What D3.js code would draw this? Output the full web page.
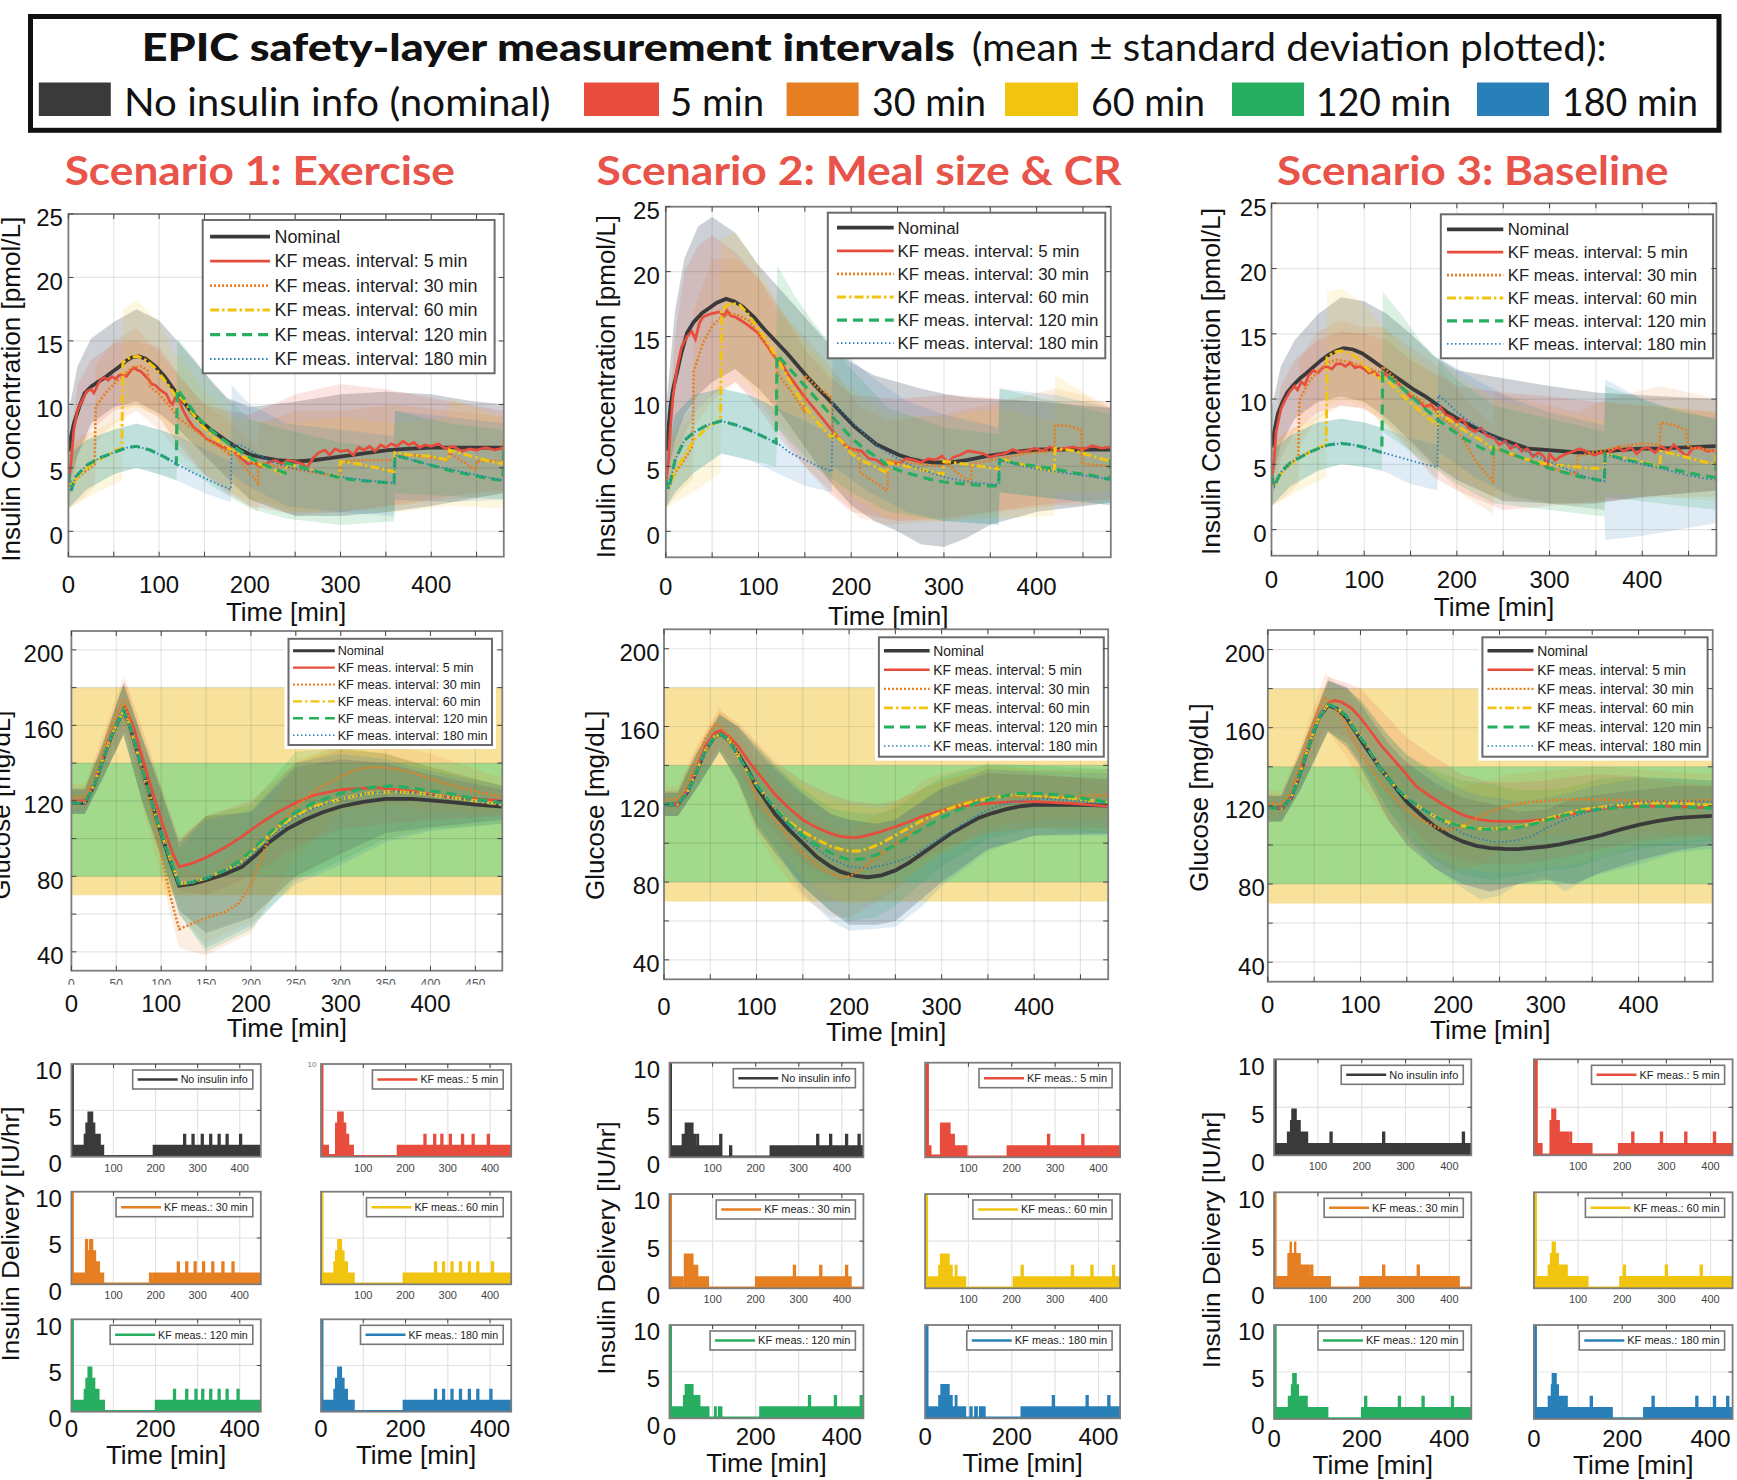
<!DOCTYPE html>
<html>
<head>
<meta charset="utf-8">
<script src="https://cdn.jsdelivr.net/npm/d3@7"></script>
<style>
body { margin: 0; background: #fff; }
svg text { font-family: "Liberation Sans", Arial, sans-serif; fill: #111; }
</style>
</head>
<body>
<svg width="1737" height="1480"></svg>
<script>
// ---------- labels & ticks ----------
const headerBold = 'EPIC safety-layer measurement intervals';
const headerRest = '(mean \u00b1 standard deviation plotted):';
const headerItems = ['No insulin info (nominal)', '5 min', '30 min', '60 min', '120 min', '180 min'];
const scenarioTitles = ['Scenario 1: Exercise', 'Scenario 2: Meal size & CR', 'Scenario 3: Baseline'];
const legendLabels = ['Nominal', 'KF meas. interval: 5 min', 'KF meas. interval: 30 min',
    'KF meas. interval: 60 min', 'KF meas. interval: 120 min', 'KF meas. interval: 180 min'];
const deliveryLabels = ['No insulin info', 'KF meas.: 5 min', 'KF meas.: 30 min',
    'KF meas.: 60 min', 'KF meas.: 120 min', 'KF meas.: 180 min'];
const insTicks = [0, 5, 10, 15, 20, 25];
const gluTicks = [40, 80, 120, 160, 200];
const gluGrid = [40, 60, 80, 100, 120, 140, 160, 180, 200];
const timeTicks = [0, 100, 200, 300, 400];
const timeGrid = [0, 50, 100, 150, 200, 250, 300, 350, 400, 450];
const delTimeTicks = [100, 200, 300, 400];
const delBigTicks = [0, 200, 400];
const delYTicks = [0, 5, 10];
const gluYellowRange = [70, 180];
const gluGreenRange = [80, 140];

// ---------- Scenario 1: insulin concentration [t, value] ----------
const s1InsNom = [[0,6.3],[3,7.5],[6,8.5],[12,9.8],[18,10.9],[25,11.4],[31,11.7],[40,12.1],[47,12.5],[55,12.9],[63,13.4],[70,13.7],[77,13.8],[85,13.6],[96,13.0],[106,12.2],[116,11.2],[127,10.2],[137,9.3],[147,8.6],[157,8.0],[167,7.5],[177,7.0],[190,6.4],[202,6.0],[215,5.8],[230,5.6],[251,5.5],[270,5.6],[292,5.8],[312,6.0],[332,6.2],[352,6.4],[373,6.5],[400,6.6],[440,6.6],[480,6.6]];
const s1Ins5 = [[0,3.5],[3,5.5],[6,8],[10,9.5],[15,10.3],[20,11],[25,11.2],[28,10.9],[32,11.5],[36,12.0],[40,12.1],[44,11.9],[48,12.2],[52,12.0],[56,12.3],[60,12.4],[64,12.2],[68,12.6],[72,12.9],[76,12.7],[80,12.6],[84,12.3],[88,12.0],[92,11.6],[96,11.5],[100,11.2],[104,11.0],[108,10.8],[112,10.2],[115,10.0],[118,10.6],[122,10.4],[126,9.6],[132,8.8],[138,8.2],[145,7.8],[152,7.3],[160,7.0],[168,6.7],[175,6.5],[182,6.3],[190,5.8],[198,5.3],[205,5.4],[212,5.1],[220,5.4],[228,5.6],[235,5.3],[242,5.6],[250,5.5],[258,5.3],[263,5.0],[270,5.8],[276,6.2],[283,6.4],[288,6.0],[294,6.5],[300,6.3],[308,6.4],[314,6.0],[320,6.6],[326,6.4],[332,6.7],[338,6.3],[344,6.8],[350,6.6],[356,6.9],[362,6.7],[369,7.1],[375,6.8],[381,7.0],[387,6.6],[393,6.8],[400,6.7],[408,6.9],[416,6.5],[424,6.7],[434,6.3],[442,6.5],[450,6.4],[460,6.6],[470,6.4],[480,6.6]];
const s1Ins30 = [[0,4.6],[3,3.6],[10,4.2],[20,4.8],[29,5.3],[30,9.8],[40,10.8],[50,11.6],[60,12.2],[70,12.9],[80,13.0],[87,12.7],[90,11.4],[100,10.8],[110,10.0],[119,9.2],[120,9.0],[135,8.2],[150,7.4],[165,6.7],[177,6.1],[178,6.6],[195,5.0],[209,3.8],[210,5.4],[225,5.2],[240,5.0],[260,4.8],[280,4.5],[299,4.3],[300,5.5],[320,5.6],[340,5.6],[359,5.6],[360,5.9],[380,6.0],[400,5.8],[419,5.6],[420,6.2],[435,5.5],[449,4.8],[450,5.5],[479,5.6],[480,7.7]];
const s1Ins60 = [[0,4.3],[3,3.4],[10,4.3],[20,5.0],[30,5.5],[45,6.1],[59,6.6],[60,13.3],[68,13.7],[76,13.8],[85,13.5],[95,12.9],[105,12.0],[115,11.0],[119,10.6],[120,10.9],[130,10.0],[145,8.5],[160,7.4],[175,6.6],[180,6.4],[195,5.8],[210,5.3],[225,4.9],[239,4.5],[240,5.3],[260,5.0],[280,4.6],[299,4.3],[300,5.5],[320,5.3],[340,5.0],[359,4.7],[360,6.2],[380,6.0],[400,5.9],[419,5.6],[420,6.4],[440,6.0],[460,5.6],[479,5.3],[480,6.0]];
const s1Ins120 = [[0,4.6],[3,3.2],[8,4.3],[20,5.2],[35,5.8],[50,6.2],[65,6.6],[75,6.7],[90,6.4],[105,5.9],[119,5.3],[120,11.2],[130,10.2],[145,8.8],[160,7.8],[175,7.0],[190,6.3],[205,5.6],[220,5.1],[239,4.6],[240,5.4],[260,5.0],[280,4.6],[300,4.2],[320,4.0],[340,3.9],[359,3.8],[360,6.0],[380,5.6],[400,5.2],[420,4.8],[440,4.5],[460,4.2],[479,4.0],[480,6.6]];
const s1Ins180 = [[0,4.6],[3,3.2],[8,4.3],[20,5.2],[35,5.8],[50,6.2],[65,6.6],[75,6.7],[90,6.4],[105,5.9],[120,5.3],[135,4.7],[150,4.2],[165,3.7],[179,3.3],[180,6.8],[190,6.8],[205,6.2],[220,5.6],[240,5.1],[260,4.8],[280,4.6],[300,4.3],[330,4.0],[359,3.8],[360,6.0],[380,5.6],[400,5.2],[420,4.9],[440,4.6],[460,4.3],[480,4.0]];
// bands [t, lower, upper]
const s1InsNomBand = [[0,3.5,9.3],[10,6,13],[25,8.5,15.2],[50,9.8,16.5],[75,10.2,17.5],[100,9.3,16.6],[125,7.8,14.6],[150,6,12.5],[175,4.2,10.5],[200,2.5,9.8],[250,1.2,10.2],[300,1.2,10.8],[350,1.5,11],[400,2,10.8],[440,2.5,10.3],[480,3,10]];
const s1Ins5Band = [[0,1.8,6],[10,6,11.5],[25,8,13.5],[50,9.5,14.8],[75,10,15],[100,9,14.5],[125,6.5,12],[150,4.5,10],[175,3,9.5],[200,2,9.2],[250,1.3,10.8],[300,1.5,11.6],[350,2,11.2],[400,2.5,10.5],[440,3,10],[480,3.2,9.5]];
const s1Ins30Band = [[0,1.8,6.5],[15,2.5,7.5],[29,3.5,8],[30,7,13],[50,8.5,15],[75,9.5,16],[100,8,14],[125,6,12],[150,4.5,10],[180,3,8.5],[209,1.5,6.5],[210,2.5,8.5],[250,1.5,9.5],[300,1.5,9.5],[360,2,10],[420,2.5,9.5],[480,3,9]];
const s1Ins60Band = [[0,1.8,6.5],[30,3,8],[59,4,9],[60,9.5,17.5],[75,9.8,18.2],[100,9,16.5],[119,7,13.5],[120,7.5,14],[150,4.5,11],[180,3,9],[240,1.5,8.5],[300,1.8,9],[360,1.5,8.5],[419,2,9],[420,2,10.5],[479,1.8,9],[480,3,10]];
const s1Ins120Band = [[0,1.8,6],[20,3.3,7.2],[50,4.5,8],[75,5,8.5],[100,4.5,8],[119,4,7.5],[120,5.5,15.2],[140,4.5,13.5],[160,3.5,11.5],[200,1.8,8.8],[240,1,8],[300,0.5,7],[359,0.8,6.5],[360,3,9.5],[420,2.8,8.5],[480,2.5,8]];
const s1Ins180Band = [[0,1.8,6],[20,3.3,7.2],[50,4.5,8],[75,5,8.5],[100,4.5,8],[120,4,7.5],[150,3,6.5],[179,2.3,5.5],[180,4.5,11.5],[200,3.5,10],[240,2,8.5],[300,1.5,8],[359,1.2,7.5],[360,2.5,9.5],[420,2.3,9],[480,2.5,8.5]];

// ---------- Scenario 1: glucose ----------
const s1GluNom = [[0,119],[15,119],[25,128],[35,142],[45,155],[58,168],[65,160],[80,135],[95,110],[110,88],[120,75],[135,76],[150,78],[170,81],[190,85],[205,91],[220,98],[240,105],[260,110],[280,114],[300,117],[325,119.5],[350,121],[380,121],[420,119.5],[450,118],[480,117]];
const s1Glu5 = [[0,120],[15,120],[25,129],[35,143],[45,156],[60,170],[70,158],[85,133],[100,110],[112,93],[120,85],[135,87],[150,90],[170,95],[190,101],[210,108],[230,114],[250,119],[270,123],[300,126],[340,127],[380,125],[420,122],[450,121],[480,120]];
const s1Glu30 = [[0,122],[15,122],[25,131],[35,146],[45,160],[58,174],[65,162],[80,133],[95,103],[110,70],[120,52],[135,55],[150,58],[170,61],[185,65],[200,75],[210,88],[220,100],[235,110],[250,117],[270,125],[300,133],[320,137],[340,138],[360,137],[380,135],[410,130],[450,125],[480,122]];
const s1Glu60 = [[0,119],[15,119],[25,128],[35,142],[45,155],[58,168],[65,160],[80,135],[95,110],[110,89],[120,76],[135,77],[150,79],[170,83],[190,88],[210,97],[230,106],[250,112],[270,117],[300,121],[330,124],[360,125],[390,124],[420,122],[450,120],[480,118]];
const s1Glu120 = [[0,119],[15,119],[25,128],[35,142],[45,155],[58,168],[65,160],[80,135],[95,110],[110,89],[120,76],[135,77],[150,79],[170,83],[190,89],[210,98],[230,107],[250,114],[270,119],[300,124],[330,127],[360,128],[390,126],[420,124],[450,121],[480,119]];
const s1Glu180 = [[0,119],[15,119],[25,128],[35,142],[45,155],[58,168],[65,160],[80,135],[95,110],[110,89],[120,76],[135,77],[150,79],[170,83],[190,87],[210,95],[230,104],[250,111],[270,116],[300,121],[330,124],[360,125],[390,124],[420,122],[450,120],[480,118]];
const s1GluNomBand = [[0,113,126],[15,113,126],[35,132,150],[58,155,182],[80,118,152],[100,90,125],[120,62,98],[150,50,112],[200,58,114],[250,80,138],[300,92,142],[350,103,140],[400,106,134],[480,110,126]];
const s1Glu5Band = [[0,114,127],[15,114,127],[35,133,152],[60,157,184],[85,120,150],[100,98,128],[120,72,100],[150,70,112],[200,80,120],[250,96,140],[300,105,147],[350,108,145],[400,110,138],[480,112,128]];
const s1Glu30Band = [[0,115,129],[15,115,129],[35,136,155],[58,160,186],[80,115,150],[100,80,122],[120,42,85],[150,38,80],[200,50,100],[250,90,140],[300,115,150],[350,118,150],[400,115,145],[480,113,132]];
const s1Glu60Band = [[0,113,126],[15,113,126],[35,132,150],[58,155,182],[80,118,152],[100,92,126],[120,60,95],[150,45,112],[200,56,118],[250,80,142],[300,90,148],[350,100,145],[400,105,138],[480,108,128]];
const s1Glu120Band = [[0,113,126],[15,113,126],[35,132,150],[58,155,182],[80,118,152],[100,92,126],[120,60,95],[150,40,112],[200,52,118],[250,78,146],[300,88,148],[350,100,145],[400,105,138],[480,108,128]];
const s1Glu180Band = [[0,113,126],[15,113,126],[35,132,150],[58,155,182],[80,118,152],[100,92,126],[120,60,95],[150,42,110],[200,54,115],[250,76,140],[300,86,145],[350,98,142],[400,104,136],[480,108,128]];

// ---------- Scenario 2: insulin concentration ----------
const s2InsNom = [[0,6.2],[3,8],[5,9.6],[8,11],[12,12.2],[17,13.8],[23,15.3],[30,16.1],[39,16.8],[47,17.2],[55,17.6],[65,17.9],[74,17.7],[83,17.3],[95,16.5],[107,15.5],[119,14.6],[131,13.7],[143,12.7],[155,11.7],[167,10.8],[179,9.9],[191,9.0],[203,8.1],[215,7.4],[227,6.7],[239,6.3],[251,5.9],[263,5.6],[275,5.4],[290,5.3],[306,5.3],[326,5.5],[346,5.8],[366,6.0],[386,6.2],[406,6.3],[440,6.3],[480,6.3]];
const s2Ins5 = [[0,3.5],[3,5.5],[5,8],[8,10.5],[12,12.5],[17,14.2],[23,15.0],[28,15.4],[32,14.8],[36,16.0],[40,16.5],[46,16.7],[52,16.8],[58,16.9],[63,16.6],[66,17.0],[70,16.6],[75,16.5],[82,16.2],[90,15.8],[99,15.3],[107,14.5],[115,13.7],[120,13.2],[126,12.8],[131,12.2],[140,11.3],[148,10.5],[155,9.9],[163,9.2],[171,8.5],[179,7.8],[187,7.1],[195,6.5],[203,6.3],[211,6.2],[219,5.6],[227,5.5],[235,5.1],[243,5.3],[251,5.2],[259,5.6],[267,5.5],[275,5.3],[283,5.6],[291,5.5],[298,5.8],[304,5.3],[310,5.7],[318,5.9],[326,6.2],[334,6.1],[342,6.0],[350,5.7],[358,5.9],[366,6.0],[374,6.3],[382,6.1],[390,6.2],[398,6.4],[406,6.2],[414,6.5],[422,6.2],[430,6.4],[440,6.5],[450,6.3],[460,6.6],[470,6.4],[480,6.5]];
const s2Ins30 = [[0,4.7],[3,3.5],[10,4.5],[20,5.5],[29,6.6],[30,12.3],[40,14.5],[50,15.8],[60,16.5],[70,16.8],[80,16.6],[90,16.2],[100,15.3],[110,14.2],[119,13.2],[120,12.2],[135,10.8],[149,9.3],[150,12.0],[165,11.0],[179,10.3],[180,7.8],[195,6.6],[209,6.0],[210,4.5],[225,3.8],[239,3.1],[240,5.5],[270,5.2],[299,5.0],[300,5.4],[315,4.5],[329,3.7],[330,5.2],[360,5.6],[390,6.0],[419,6.2],[420,8.2],[435,8.1],[448,7.8],[449,5.2],[480,5.0]];
const s2Ins60 = [[0,4.0],[3,3.3],[10,4.6],[20,5.8],[30,7.0],[45,8.0],[59,8.6],[60,17.0],[70,17.6],[80,17.4],[90,16.6],[100,15.6],[110,14.5],[120,13.4],[130,12.0],[140,10.8],[150,9.6],[160,8.7],[170,7.9],[179,7.2],[180,7.6],[190,6.9],[200,6.0],[210,5.5],[225,5.0],[239,4.5],[240,5.3],[260,5.0],[280,4.7],[299,4.4],[300,5.4],[320,5.2],[340,5.0],[359,4.8],[360,5.6],[380,5.2],[400,4.9],[419,4.6],[420,6.4],[440,6.2],[460,5.8],[479,5.4],[480,6.0]];
const s2Ins120 = [[0,4.0],[3,3.2],[10,5.5],[20,7.0],[30,7.6],[45,8.2],[60,8.5],[75,8.2],[90,7.8],[105,7.3],[119,6.8],[120,13.6],[130,12.8],[140,12.0],[150,11.2],[160,10.4],[170,9.6],[180,8.8],[190,8.0],[200,7.2],[215,6.3],[230,5.6],[240,5.0],[255,4.6],[270,4.3],[285,4.0],[300,3.8],[315,3.7],[330,3.6],[345,3.5],[359,3.5],[360,5.5],[380,5.2],[400,5.0],[420,4.8],[440,4.5],[460,4.3],[479,4.0],[480,5.8]];
const s2Ins180 = [[0,4.0],[3,3.2],[10,5.5],[20,7.0],[30,7.6],[45,8.2],[60,8.5],[75,8.2],[90,7.8],[105,7.3],[120,6.8],[135,6.0],[150,5.5],[165,5.0],[179,4.6],[180,9.9],[190,9.2],[200,8.5],[215,7.4],[230,6.5],[245,5.8],[260,5.2],[275,4.8],[290,4.4],[305,4.1],[320,3.9],[340,3.7],[359,3.6],[360,5.5],[380,5.1],[400,4.8],[420,4.6],[440,4.4],[460,4.2],[480,4.0]];
const s2InsNomBand = [[0,3.5,9.3],[10,7,17],[20,9,21],[35,10.5,23.5],[50,11.5,24.2],[75,12.5,23],[100,11,20.5],[125,9,18.5],[150,6.5,16.5],[175,4,14.5],[200,2,13],[225,0.8,12],[250,0,11.5],[275,-1,11],[300,-1.2,10.6],[325,-0.5,10.3],[350,0.5,10.2],[400,1.5,10],[480,2.2,9.5]];
const s2Ins5Band = [[0,1.5,6],[10,5,15],[20,7.5,20],[35,9.5,22],[50,10.5,22.8],[75,11.5,21.5],[100,9.5,19.5],[125,7,17],[150,5,14],[175,3,12],[200,1.5,10.5],[250,0.8,10.2],[300,1,10.5],[350,1.5,10.3],[400,2,10],[480,2.5,10]];
const s2Ins30Band = [[0,1.8,6.5],[15,3,8.5],[29,4,9.5],[30,8,17],[50,10,21],[75,11.5,21],[100,10,19.5],[120,8,17],[150,5,15],[180,3,12.5],[210,1,9.5],[240,0.5,8.5],[300,0.8,9],[360,1.5,10],[420,2,11],[450,2,10.5],[480,2.3,9.5]];
const s2Ins60Band = [[0,1.8,6.5],[30,3,9],[59,4.5,11.5],[60,12,22.5],[75,12.5,23],[100,10.5,20.5],[120,8.5,17.5],[150,6,14.5],[180,3.5,12],[240,1,9],[300,0.8,8.8],[360,1,9.5],[419,1.2,8.5],[420,3,12],[480,3,9.5]];
const s2Ins120Band = [[0,1.8,6],[10,3,9],[30,4.5,10.5],[60,6,11],[90,5.5,10.5],[119,5,9.5],[120,8,20.5],[140,6.5,18],[160,5,16],[200,3,12.5],[240,1.5,9.5],[300,0.8,8],[359,0.5,7.5],[360,3,11],[420,2.5,10],[480,2,9]];
const s2Ins180Band = [[0,1.8,6],[10,3,9],[30,4.5,10.5],[60,6,11],[90,5.5,10.5],[120,4.5,9.5],[150,3.5,8.5],[179,3,7.5],[180,5,14.5],[220,3,12],[260,1.5,10],[300,0.8,9],[359,0.5,8],[360,3,11],[420,2.5,10.5],[480,2,9.5]];

// ---------- Scenario 2: glucose ----------
const s2GluNom = [[0,120],[15,120],[25,126],[35,137],[45,148],[55,155],[62,156],[70,153],[80,146],[90,138],[100,129],[110,122],[120,115],[135,107],[150,100],[165,93],[180,88],[190,85.5],[200,84],[210,83],[220,82.5],[235,83.5],[250,86],[265,90],[280,95],[295,100],[310,105],[325,109],[340,113],[355,115.5],[370,117.5],[385,119],[400,119.7],[440,119.8],[480,119.3]];
const s2Glu5 = [[0,120],[15,120],[25,127],[35,138],[45,150],[55,157],[62,158],[70,155],[80,150],[90,143],[100,137],[110,131],[120,125],[135,118],[150,112],[165,108],[180,105],[190,103.5],[200,103],[210,103],[220,104],[235,106],[250,108.5],[265,111],[280,114],[295,116],[310,118],[330,119.5],[350,120.5],[375,121.3],[400,121.4],[440,120.5],[480,119]];
const s2Glu30 = [[0,122.5],[15,122.5],[25,130],[35,142],[45,154],[55,161],[60,160],[70,155],[80,147],[90,135],[100,124],[110,117],[120,112],[135,103],[150,95],[165,89],[180,84.6],[190,82.6],[200,83],[205,84],[215,87],[230,93],[245,98],[260,103],[275,108.5],[290,113.7],[305,117.5],[320,120.5],[340,122.5],[360,124],[400,124],[440,124],[480,124.8]];
const s2Glu60 = [[0,120],[15,120],[25,126],[35,137],[45,148],[55,155],[62,156],[70,153],[80,145],[90,137],[100,130],[110,124],[120,118],[135,111],[150,106],[165,102],[180,98.5],[190,97],[200,96],[210,96],[220,97],[235,100],[250,104],[265,108],[280,112],[295,115],[310,118],[330,121],[350,123],[380,125],[420,124],[450,122.5],[480,121]];
const s2Glu120 = [[0,120],[15,120],[25,126],[35,137],[45,148],[55,155],[62,156],[70,153],[80,145],[90,137],[100,130],[110,124],[120,118],[135,110],[150,104],[165,99],[180,95],[190,93],[200,91.5],[215,92],[230,94],[240,96.5],[255,100.5],[270,105],[285,109],[300,113],[320,117.5],[340,121],[360,123.5],[380,125.5],[410,125.5],[440,124],[480,121]];
const s2Glu180 = [[0,120],[15,120],[25,126],[35,137],[45,148],[55,155],[62,156],[70,153],[80,145],[90,137],[100,130],[110,124],[120,118],[135,109],[150,103],[165,97],[180,92],[190,90],[200,88],[220,87],[240,89],[255,91],[270,94],[285,98.5],[300,103],[315,107.5],[330,112],[345,116],[360,119],[380,121.5],[400,123],[440,122],[480,120]];
const s2GluNomBand = [[0,114,126],[15,114,126],[35,128,146],[60,147,166],[80,132,160],[100,108,148],[120,95,138],[150,78,125],[180,65,115],[200,58,112],[230,58,110],[250,60,112],[280,72,122],[300,80,128],[350,97,136],[400,104,135],[480,105,133]];
const s2Glu5Band = [[0,114,127],[15,114,127],[35,129,148],[60,148,168],[80,138,162],[100,118,152],[120,105,142],[150,90,132],[180,82,125],[200,80,122],[230,82,120],[250,85,122],[280,92,128],[300,97,132],[350,105,138],[400,108,136],[480,108,132]];
const s2Glu30Band = [[0,116,129],[15,116,129],[35,133,150],[60,150,170],[80,130,158],[100,105,142],[120,90,132],[150,72,118],[180,62,108],[200,62,106],[230,70,115],[250,76,120],[280,88,132],[300,95,136],[350,108,140],[400,112,138],[480,112,138]];
const s2Glu60Band = [[0,114,126],[15,114,126],[35,128,146],[60,147,166],[80,132,160],[100,110,150],[120,98,140],[150,82,130],[180,72,122],[200,68,120],[230,72,118],[250,78,120],[280,88,128],[300,94,132],[350,105,140],[400,108,138],[480,106,136]];
const s2Glu120Band = [[0,114,126],[15,114,126],[35,128,146],[60,147,166],[80,132,160],[100,110,150],[120,98,140],[150,78,128],[180,65,118],[200,60,116],[230,62,115],[250,68,118],[280,80,128],[300,88,134],[350,102,141],[400,108,140],[480,105,138]];
const s2Glu180Band = [[0,114,126],[15,114,126],[35,128,146],[60,147,166],[80,132,160],[100,110,150],[120,98,140],[150,74,126],[180,60,115],[200,55,112],[230,56,110],[250,57,112],[280,68,122],[300,78,128],[350,96,138],[400,104,137],[480,104,136]];

// ---------- Scenario 3: insulin concentration ----------
const s3InsNom = [[0,6.3],[3,7.5],[7,8.9],[12,9.8],[17,10.5],[24,11.1],[31,11.6],[38,12.0],[46,12.5],[54,13.0],[62,13.4],[70,13.7],[78,13.9],[88,13.8],[98,13.5],[108,13.0],[118,12.5],[130,11.9],[142,11.3],[154,10.7],[166,10.2],[178,9.6],[189,9.0],[203,8.4],[217,7.9],[231,7.4],[245,7.0],[261,6.6],[277,6.2],[296,6.1],[316,6.0],[332,5.9],[348,5.9],[362,6.0],[376,6.1],[396,6.2],[416,6.2],[448,6.3],[480,6.4]];
const s3Ins5 = [[0,3.5],[3,5.5],[5,7.5],[10,9.2],[15,10.0],[20,10.6],[25,11.0],[28,10.7],[32,11.3],[36,11.1],[40,11.8],[45,12.2],[50,12.0],[55,12.4],[60,12.5],[65,12.3],[70,12.7],[75,12.7],[80,12.5],[85,12.8],[90,12.4],[95,12.5],[100,12.3],[105,12.0],[110,12.1],[115,11.8],[118,11.6],[122,12.0],[128,11.6],[135,11.3],[142,10.8],[150,10.2],[158,9.9],[165,9.4],[172,9.6],[178,9.1],[182,9.4],[188,8.8],[195,8.6],[200,8.2],[206,8.5],[212,7.8],[220,7.5],[226,7.8],[232,7.2],[240,7.0],[246,6.5],[252,6.8],[258,6.2],[264,6.5],[270,6.0],[276,6.2],[282,5.6],[288,5.9],[294,5.6],[297,4.8],[300,5.8],[306,5.3],[312,5.6],[318,5.8],[326,6.0],[332,6.2],[340,6.0],[348,5.7],[356,5.9],[362,5.8],[368,6.1],[374,6.3],[380,6.0],[388,6.3],[394,5.8],[400,6.2],[406,6.3],[414,5.9],[420,6.4],[428,6.0],[434,6.5],[440,6.1],[448,5.6],[454,6.2],[462,6.3],[470,6.0],[480,6.1]];
const s3Ins30 = [[0,4.6],[3,3.5],[10,4.3],[20,5.0],[29,5.6],[30,9.9],[40,11.3],[50,12.1],[60,12.8],[70,13.0],[80,12.9],[90,12.7],[100,12.5],[110,12.2],[119,12.0],[120,12.5],[130,11.8],[140,11.0],[150,10.4],[160,10.0],[170,9.4],[179,9.0],[180,8.6],[190,8.3],[200,7.6],[210,6.5],[220,5.3],[230,4.4],[239,3.7],[240,6.3],[255,5.8],[270,5.5],[285,5.1],[300,4.8],[315,4.4],[329,4.2],[330,5.6],[345,5.9],[360,6.1],[380,6.4],[400,6.6],[419,6.5],[420,8.2],[435,8.0],[447,7.6],[450,6.3],[479,6.0],[480,3.8]];
const s3Ins60 = [[0,4.0],[3,3.3],[10,4.3],[20,5.0],[30,5.5],[45,6.1],[59,6.5],[60,13.2],[68,13.6],[76,13.7],[85,13.5],[95,13.0],[105,12.2],[119,11.5],[120,11.8],[135,10.7],[150,9.7],[165,8.8],[179,8.0],[180,9.0],[190,8.5],[200,8.0],[212,7.4],[225,6.9],[239,6.2],[240,6.3],[255,5.9],[270,5.5],[285,5.2],[300,5.0],[315,4.9],[330,4.8],[345,4.7],[359,4.7],[360,5.8],[380,5.5],[400,5.2],[419,4.8],[420,6.0],[440,5.7],[460,5.3],[479,5.0],[480,6.2]];
const s3Ins120 = [[0,4.2],[3,3.3],[10,4.4],[20,5.1],[30,5.5],[40,5.9],[50,6.2],[62,6.5],[75,6.6],[88,6.5],[100,6.3],[110,6.1],[119,5.9],[120,12.0],[130,11.5],[140,10.9],[150,10.3],[160,9.6],[170,9.0],[180,8.4],[195,7.6],[210,6.9],[225,6.3],[239,5.8],[240,6.3],[255,5.9],[270,5.5],[285,5.1],[300,4.7],[315,4.4],[330,4.1],[345,3.9],[359,3.7],[360,5.8],[380,5.4],[400,5.1],[420,4.8],[440,4.5],[460,4.2],[479,4.0],[480,5.3]];
const s3Ins180 = [[0,4.2],[3,3.3],[10,4.4],[20,5.1],[30,5.5],[40,5.9],[50,6.2],[62,6.5],[75,6.6],[88,6.5],[100,6.3],[110,6.1],[120,5.9],[135,5.6],[150,5.3],[165,5.0],[179,4.8],[180,10.3],[190,9.7],[200,9.0],[215,8.2],[230,7.5],[245,6.9],[260,6.4],[280,5.8],[300,5.2],[320,4.6],[340,4.0],[359,3.7],[360,5.8],[380,5.3],[400,5.0],[420,4.7],[440,4.3],[460,4.0],[480,3.8]];
const s3InsNomBand = [[0,3.5,9.3],[10,6.5,12.5],[25,8.5,14.5],[50,9.8,16.5],[75,10.2,17.8],[100,9.8,17.5],[125,8.5,16.5],[150,6.8,15],[175,5,13.3],[200,3.8,12.2],[250,2.2,11.6],[300,2,11],[350,2,10.5],[400,2.5,10.3],[480,3,10]];
const s3Ins5Band = [[0,1.8,6],[10,5.5,11],[25,7.5,13],[50,9,14.5],[75,9.5,15.2],[100,9.3,15],[125,8,14.5],[150,6,13],[175,4,12],[200,3,11],[250,1.5,10.5],[300,1.8,10.2],[350,2.2,9.8],[400,2.5,9.5],[480,3,9]];
const s3Ins30Band = [[0,1.8,6.5],[15,2.5,7.5],[29,3.5,8],[30,6.5,13],[50,8.5,15.2],[75,9.5,16],[100,9.2,15.5],[120,8.5,15.5],[150,6.5,14],[180,4.5,12.5],[210,2.5,10],[239,1.2,8],[240,3,10.5],[300,2,9.5],[330,1.8,9],[360,2.2,10],[420,2.5,11],[480,2.5,10]];
const s3Ins60Band = [[0,1.8,6.5],[30,3,8],[59,4,9],[60,9.5,18.2],[75,10,18.5],[100,9.5,17.3],[120,8,15.5],[150,6,13.5],[179,4,11.5],[180,5,13],[240,2.5,10],[300,2,9],[359,1.5,8.3],[360,2.8,9.8],[420,2.5,9.5],[480,2.2,9]];
const s3Ins120Band = [[0,1.8,6],[20,3.3,7.2],[50,4.5,8.2],[75,5,8.5],[100,4.8,8.2],[119,4.5,7.8],[120,7.5,18.2],[140,6.5,16.5],[160,5.5,14.5],[200,3.5,11.5],[240,2,9.5],[300,1.5,8.5],[359,1,7.5],[360,2.5,11],[420,2,9.5],[480,1.5,8.5]];
const s3Ins180Band = [[0,1.8,6],[20,3.3,7.2],[50,4.5,8.2],[75,5,8.5],[100,4.8,8.2],[120,4.5,7.8],[150,3.5,7],[179,3,6.5],[180,6,13.2],[220,4,11.5],[260,2.5,10],[300,2,9],[359,1.5,8],[360,-0.8,11.5],[400,-0.5,10],[440,0,9],[480,0.5,8.5]];

// ---------- Scenario 3: glucose ----------
const s3GluNom = [[0,118.8],[15,118.8],[25,124],[35,137],[45,152],[55,165],[65,171.6],[75,169.5],[85,165],[100,154],[110,147],[120,140],[135,131],[150,122],[165,115.5],[180,109.5],[195,105],[210,101.8],[225,99.5],[240,98.4],[255,98],[270,97.9],[285,98.5],[300,99.2],[315,100.3],[330,101.8],[345,103.4],[360,105],[380,107.8],[400,110.3],[420,112.2],[440,113.7],[460,114.4],[480,114.9]];
const s3Glu5 = [[0,118.8],[15,118.8],[25,124],[35,138],[45,153],[55,166],[65,172.5],[72,174],[80,173],[90,170],[100,165],[110,158.8],[122,151],[135,144],[148,137],[160,130],[175,125],[190,120.5],[205,116.5],[215,114.6],[228,113],[240,112.3],[255,112],[270,112],[285,112.4],[300,113],[320,115],[340,117],[360,118.5],[380,119.7],[420,120],[450,119.5],[480,119]];
const s3Glu30 = [[0,121],[15,121],[25,127],[35,141],[45,157],[55,170],[62,175],[70,172],[80,165],[90,156],[100,147],[110,140],[120,133],[135,125],[150,118],[165,113],[180,109.4],[190,108],[195,107.7],[202,108.5],[210,110],[225,113.5],[240,117],[255,119.5],[270,121],[285,122],[300,122.6],[320,123.2],[340,123.4],[380,123],[420,122.3],[450,122.5],[480,123]];
const s3Glu60 = [[0,118.8],[15,118.8],[25,124],[35,137],[45,152],[55,165],[65,172],[75,170],[85,166],[95,158],[105,152],[120,140],[135,131],[150,124],[165,119],[180,114.6],[195,111.5],[210,109.8],[225,108.5],[240,108.2],[255,108.5],[270,109.3],[285,111],[300,113.3],[315,115.2],[330,117],[345,118.5],[360,119.3],[380,120.5],[400,121.4],[440,121.5],[480,120.3]];
const s3Glu120 = [[0,118.8],[15,118.8],[25,124],[35,137],[45,152],[55,165],[65,172],[75,170],[85,166],[95,158],[105,152],[120,140],[135,131],[150,124],[165,119],[180,114.6],[195,111.3],[210,109.5],[225,108.2],[240,108],[255,108.2],[270,109],[285,110.5],[300,112.5],[315,114.5],[330,116.3],[345,117.5],[360,118.3],[380,119.3],[400,119.8],[440,119.6],[480,118.8]];
const s3Glu180 = [[0,118.8],[15,118.8],[25,124],[35,137],[45,152],[55,165],[65,172],[75,170],[85,166],[95,158],[105,152],[120,140],[135,131],[150,124],[165,119],[180,114.6],[195,110],[210,106],[225,103.5],[240,101.8],[255,101.5],[270,102.5],[285,104.5],[300,108.6],[315,111.8],[330,114.6],[345,116.8],[360,118.8],[380,120.8],[400,122.2],[440,122.3],[480,122.2]];
const s3GluNomBand = [[0,112,125],[15,112,125],[35,128,147],[65,158,184],[85,150,181],[100,140,172],[130,113,152],[150,100,142],[180,88,132],[210,80,124],[240,76,121],[270,80,117],[300,82,118],[330,80,124],[360,86,126],[400,92,128],[440,97,130],[480,100,130]];
const s3Glu5Band = [[0,112,126],[15,112,126],[35,129,148],[65,159,186],[85,155,183],[100,148,180],[130,125,165],[150,112,155],[180,98,145],[210,92,136],[240,90,132],[270,90,132],[300,92,133],[330,95,135],[360,98,136],[400,102,135],[440,104,132],[480,105,130]];
const s3Glu30Band = [[0,114,128],[15,114,128],[35,132,150],[62,160,188],[85,145,178],[100,132,165],[130,112,148],[150,102,138],[180,92,128],[200,86,128],[230,90,132],[260,100,136],[300,105,138],[360,106,140],[420,106,138],[480,106,136]];
const s3Glu60Band = [[0,112,125],[15,112,125],[35,128,147],[65,158,184],[85,152,180],[100,142,174],[130,118,156],[150,106,146],[180,94,138],[210,88,133],[240,86,130],[270,86,128],[300,88,128],[330,90,130],[360,94,133],[400,100,134],[440,102,133],[480,103,132]];
const s3Glu120Band = [[0,112,125],[15,112,125],[35,128,147],[65,158,184],[85,152,180],[100,142,174],[130,118,156],[150,106,146],[180,92,138],[210,85,133],[240,82,131],[270,84,128],[300,87,128],[330,88,130],[360,93,134],[400,98,135],[440,100,134],[480,102,133]];
const s3Glu180Band = [[0,112,125],[15,112,125],[35,128,147],[65,158,184],[85,152,180],[100,142,174],[130,118,156],[150,104,146],[180,88,136],[210,78,128],[230,72,125],[250,74,124],[270,80,122],[300,84,124],[320,76,126],[350,84,130],[400,90,134],[440,96,134],[480,98,133]];

// ---------- insulin delivery, step values [t start, IU/hr] ----------
const s1DelNom = [[0,10],[4,1.2],[31,2.4],[35,3.6],[40,4.8],[50,3.6],[55,2.4],[68,1.2],[76,0.1],[195,1.2],[267,2.4],[271,1.2],[287,2.4],[291,1.2],[309,2.4],[313,1.2],[329,2.4],[333,1.2],[349,2.4],[353,1.2],[368,2.4],[372,1.2],[400,2.4],[404,1.2],[450,1.2]];
const s1Del5 = [[0,10],[4,1.2],[17,0.2],[35,3.6],[40,4.8],[52,3.6],[58,2.4],[65,1.2],[76,0.1],[181,1.2],[244,2.4],[248,1.2],[267,2.4],[271,1.2],[284,2.4],[288,1.2],[304,2.4],[308,1.2],[311,0.2],[313,1.2],[333,2.4],[337,1.2],[358,2.4],[362,1.2],[394,2.4],[398,0.2],[400,1.2],[450,1.2]];
const s1Del30 = [[0,10],[4,1.2],[31,0.2],[34,4.8],[38,3.6],[44,4.8],[50,3.6],[57,2.4],[66,1.2],[76,0.1],[186,1.2],[191,0.1],[195,1.2],[252,2.4],[256,1.2],[272,2.4],[276,1.2],[292,2.4],[296,1.2],[312,2.4],[316,1.2],[334,2.4],[338,1.2],[358,2.4],[362,1.2],[382,2.4],[386,1.2],[450,1.2]];
const s1Del60 = [[0,10],[4,1.2],[31,2.4],[35,3.6],[40,4.8],[48,3.6],[54,2.4],[62,1.2],[78,0.1],[195,1.2],[269,2.4],[273,1.2],[288,2.4],[292,1.2],[308,2.4],[312,1.2],[328,2.4],[332,1.2],[349,2.4],[353,1.2],[369,2.4],[373,1.2],[404,2.4],[408,1.2],[450,1.2]];
const s1Del120 = [[0,10],[4,1.2],[31,2.4],[35,3.6],[40,4.8],[48,3.6],[55,2.4],[65,1.2],[78,0.1],[200,1.2],[243,2.4],[247,1.2],[272,2.4],[276,1.2],[294,2.4],[298,1.2],[310,2.4],[314,1.2],[329,2.4],[333,1.2],[349,2.4],[353,1.2],[368,2.4],[372,1.2],[394,2.4],[398,1.2],[450,1.2]];
const s1Del180 = [[0,10],[4,1.2],[31,2.4],[35,3.6],[40,4.8],[48,3.6],[54,2.4],[62,1.2],[78,0.1],[195,1.2],[269,2.4],[273,1.2],[288,2.4],[292,1.2],[308,2.4],[312,1.2],[328,2.4],[332,1.2],[349,2.4],[353,1.2],[369,2.4],[373,1.2],[400,2.4],[404,1.2],[450,1.2]];
const s2DelNom = [[0,10],[4,1.2],[30,2.4],[37,3.6],[54,2.4],[60,1.2],[64,2.4],[67,1.2],[117,2.4],[121,0.1],[140,1.2],[144,0.1],[234,1.2],[342,2.4],[346,1.2],[372,2.4],[376,1.2],[409,2.4],[413,1.2],[438,2.4],[442,1.2],[450,1.2]];
const s2Del5 = [[0,10],[7,1.2],[13,0.2],[36,3.6],[57,2.4],[67,1.2],[96,0.1],[190,1.2],[283,2.4],[287,1.2],[362,2.4],[366,1.2],[450,1.2]];
const s2Del30 = [[0,10],[4,1.2],[31,0.1],[35,3.6],[54,2.4],[65,1.2],[90,0.1],[200,1.2],[288,2.4],[292,1.2],[349,2.4],[353,1.2],[409,2.4],[413,1.2],[421,0.1],[450,0.1]];
const s2Del60 = [[0,10],[5,1.2],[32,2.4],[36,3.6],[55,2.4],[62,1.2],[70,2.4],[73,1.2],[93,0.1],[204,1.2],[208,0.1],[210,1.2],[222,2.4],[226,1.2],[338,2.4],[342,1.2],[383,2.4],[387,1.2],[433,2.4],[437,1.2],[450,1.2]];
const s2Del120 = [[0,10],[4,1.2],[33,2.4],[37,3.6],[54,2.4],[65,1.2],[67,2.4],[70,1.2],[91,0.1],[105,1.2],[108,0.1],[114,1.2],[121,0.1],[210,1.2],[323,2.4],[327,1.2],[383,2.4],[387,1.2],[443,2.4],[447,1.2],[450,1.2]];
const s2Del180 = [[0,10],[6,1.2],[32,2.4],[37,3.6],[55,2.4],[62,1.2],[70,2.4],[73,1.2],[93,0.1],[104,1.2],[108,0.1],[115,1.2],[120,0.1],[126,1.2],[138,0.1],[222,1.2],[294,2.4],[298,1.2],[372,2.4],[376,1.2],[422,2.4],[426,1.2],[450,1.2]];
const s3DelNom = [[0,10],[4,1.2],[31,2.4],[38,3.6],[41,4.8],[50,3.6],[59,2.4],[76,1.2],[128,2.4],[132,1.2],[178,0.1],[180,1.2],[248,2.4],[252,1.2],[258,0.1],[260,1.2],[273,0.1],[275,1.2],[284,0.1],[286,1.2],[294,0.1],[296,1.2],[311,0.1],[313,1.2],[332,0.1],[334,1.2],[430,2.4],[434,1.2],[450,1.2]];
const s3Del5 = [[0,10],[7,1.2],[18,0.1],[37,3.6],[41,4.8],[49,3.6],[57,2.4],[78,1.2],[82,2.4],[85,1.2],[131,0.1],[192,1.2],[212,0.1],[214,1.2],[222,2.4],[226,1.2],[253,0.1],[255,1.2],[287,2.4],[291,1.2],[342,2.4],[346,1.2],[407,2.4],[411,1.2],[422,0.1],[424,1.2],[450,1.2]];
const s3Del30 = [[0,10],[4,1.2],[32,3.6],[37,4.8],[39,3.6],[47,4.8],[49,3.6],[59,2.4],[80,1.2],[84,2.4],[88,1.2],[128,0.1],[196,1.2],[248,2.4],[252,1.2],[327,2.4],[331,1.2],[422,0.1],[450,0.1]];
const s3Del60 = [[0,10],[5,1.2],[33,2.4],[38,3.6],[42,4.8],[48,3.6],[55,2.4],[75,1.2],[122,0.1],[195,1.2],[203,2.4],[207,1.2],[298,2.4],[302,1.2],[306,0.1],[308,1.2],[377,2.4],[381,1.2],[450,1.2]];
const s3Del120 = [[0,10],[4,1.2],[33,2.4],[40,3.6],[43,4.8],[50,3.6],[55,2.4],[75,1.2],[122,0.1],[200,1.2],[207,2.4],[211,1.2],[284,2.4],[288,1.2],[338,2.4],[342,1.2],[405,2.4],[409,1.2],[450,1.2]];
const s3Del180 = [[0,10],[5,1.2],[33,2.4],[40,3.6],[42,4.8],[50,3.6],[55,2.4],[75,1.2],[128,2.4],[132,1.2],[177,0.1],[249,1.2],[268,2.4],[272,1.2],[367,2.4],[371,1.2],[407,2.4],[411,1.2],[437,2.4],[441,1.2],[450,1.2]];

// ---------- styles ----------
const colors = ['#3a3a3a', '#e74c3c', '#e67e22', '#f1c40f', '#27ae60', '#2980b9'];
const bandColors = ['#5a6470', '#e74c3c', '#e67e22', '#f1c40f', '#27ae60', '#2980b9'];
const lineWidths = [3.8, 2.7, 2.6, 3.0, 3.2, 1.8];
const lineDashes = [null, null, '2,2', '9,3,2.5,3', '10,6', '1.5,2.5'];
const bandOpacity = [0.3, 0.15, 0.13, 0.13, 0.17, 0.15];
const titleRed = '#e8534a';

const svg = d3.select('svg');
svg.append('rect').attr('width', 1737).attr('height', 1480).attr('fill', '#fff');

let clipCount = 0;
function clipRect(x0, y0, x1, y1) {
    const id = 'clip' + (clipCount++);
    svg.append('clipPath').attr('id', id).append('rect')
        .attr('x', x0).attr('y', y0).attr('width', x1 - x0).attr('height', y1 - y0);
    return `url(#${id})`;
}

// ---------- header ----------
svg.append('rect')
    .attr('x', 30.5).attr('y', 16.5).attr('width', 1688.5).attr('height', 113.8)
    .attr('fill', 'none').attr('stroke', '#111').attr('stroke-width', 5);

const headFont = 'Lato, "Open Sans", sans-serif';
svg.append('text').attr('x', 141.8).attr('y', 61)
    .style('font-family', headFont).attr('font-weight', 900).attr('font-size', 38)
    .attr('textLength', 813).attr('lengthAdjust', 'spacingAndGlyphs')
    .text(headerBold);
svg.append('text').attr('x', 971.7).attr('y', 61)
    .style('font-family', headFont).attr('font-size', 38)
    .attr('textLength', 635).attr('lengthAdjust', 'spacingAndGlyphs')
    .text(headerRest);

const swatchX = [[38.8, 110.8], [584, 659], [786.6, 858.6], [1005, 1078], [1232, 1304], [1477, 1549]];
const itemX = [[124, 550.6], [670, 764], [872, 986], [1091, 1205], [1316, 1451], [1562, 1698]];
headerItems.forEach((t, i) => {
    svg.append('rect').attr('x', swatchX[i][0]).attr('y', 82.5)
        .attr('width', swatchX[i][1] - swatchX[i][0]).attr('height', 33.5)
        .attr('fill', colors[i]);
    svg.append('text').attr('x', itemX[i][0]).attr('y', 115.7)
        .style('font-family', headFont).attr('font-size', 39)
        .attr('textLength', itemX[i][1] - itemX[i][0]).attr('lengthAdjust', 'spacingAndGlyphs')
        .text(t);
});

// scenario titles
const titleX = [[64.7, 455], [596.6, 1121.7], [1277, 1668.6]];
scenarioTitles.forEach((t, i) => {
    svg.append('text').attr('x', titleX[i][0]).attr('y', 185)
        .style('font-family', headFont).style('fill', titleRed)
        .attr('font-weight', 700).attr('font-size', 40)
        .attr('textLength', titleX[i][1] - titleX[i][0]).attr('lengthAdjust', 'spacingAndGlyphs')
        .text(t);
});

// ---------- main panels ----------
function drawPanel(p) {
    const x = d3.scaleLinear().domain([0, 480]).range([p.x0, p.x1]);
    const y = d3.scaleLinear().domain(p.yDomain).range([p.y1, p.y0]);
    const g = svg.append('g');
    const inner = g.append('g').attr('clip-path', clipRect(p.x0, p.y0, p.x1, p.y1));

    inner.append('rect').attr('x', p.x0).attr('y', p.y0)
        .attr('width', p.x1 - p.x0).attr('height', p.y1 - p.y0).attr('fill', '#fff');

    if (p.targets) {
        inner.append('rect').attr('x', p.x0).attr('width', p.x1 - p.x0)
            .attr('y', y(gluYellowRange[1])).attr('height', y(gluYellowRange[0]) - y(gluYellowRange[1]))
            .attr('fill', '#f8e29b');
        inner.append('rect').attr('x', p.x0).attr('width', p.x1 - p.x0)
            .attr('y', y(gluGreenRange[1])).attr('height', y(gluGreenRange[0]) - y(gluGreenRange[1]))
            .attr('fill', '#a3d98b');
    }

    const area = d3.area().x(d => x(d[0])).y0(d => y(d[1])).y1(d => y(d[2]));
    p.bands.forEach((b, i) => {
        inner.append('path').attr('d', area(b))
            .attr('fill', bandColors[i]).attr('fill-opacity', bandOpacity[i]);
    });

    inner.selectAll(null).data(timeGrid).enter().append('line')
        .attr('x1', d => x(d)).attr('x2', d => x(d)).attr('y1', p.y0).attr('y2', p.y1)
        .attr('stroke', 'rgba(0,0,0,0.1)').attr('stroke-width', 1.2);
    inner.selectAll(null).data(p.yGrid).enter().append('line')
        .attr('y1', d => y(d)).attr('y2', d => y(d)).attr('x1', p.x0).attr('x2', p.x1)
        .attr('stroke', 'rgba(0,0,0,0.1)').attr('stroke-width', 1.2);

    const line = d3.line().x(d => x(d[0])).y(d => y(d[1]));
    p.lines.forEach((l, i) => {
        inner.append('path').attr('d', line(l))
            .attr('fill', 'none').attr('stroke', colors[i])
            .attr('stroke-width', lineWidths[i] * p.lw)
            .attr('stroke-dasharray', lineDashes[i]);
    });

    // legend
    const L = p.legend;
    if (L.pad) {
        g.append('rect').attr('x', L.x0 - L.pad).attr('y', L.y0 - L.pad)
            .attr('width', L.x1 - L.x0 + 2 * L.pad).attr('height', L.y1 - L.y0 + 2 * L.pad)
            .attr('fill', '#fff');
    }
    g.append('rect').attr('x', L.x0).attr('y', L.y0)
        .attr('width', L.x1 - L.x0).attr('height', L.y1 - L.y0)
        .attr('fill', '#fff').attr('stroke', '#6b6b6b').attr('stroke-width', 2);
    legendLabels.forEach((t, i) => {
        const ry = L.row0 + i * L.step;
        g.append('line').attr('x1', L.lx0).attr('x2', L.lx1).attr('y1', ry).attr('y2', ry)
            .attr('stroke', colors[i]).attr('stroke-width', lineWidths[i] * p.lw * L.lwk)
            .attr('stroke-dasharray', lineDashes[i]);
        g.append('text').attr('x', L.tx).attr('y', ry).attr('dy', '0.35em')
            .attr('font-size', L.fs).style('fill', '#222').text(t);
    });

    // frame & ticks
    g.append('rect').attr('x', p.x0).attr('y', p.y0)
        .attr('width', p.x1 - p.x0).attr('height', p.y1 - p.y0)
        .attr('fill', 'none').attr('stroke', '#7d7d7d').attr('stroke-width', 1.8);
    const tk = 5;
    timeGrid.forEach(v => {
        g.append('line').attr('x1', x(v)).attr('x2', x(v)).attr('y1', p.y0).attr('y2', p.y0 + tk).attr('stroke', '#444');
        g.append('line').attr('x1', x(v)).attr('x2', x(v)).attr('y1', p.y1).attr('y2', p.y1 - tk).attr('stroke', '#444');
    });
    p.yGrid.forEach(v => {
        g.append('line').attr('y1', y(v)).attr('y2', y(v)).attr('x1', p.x0).attr('x2', p.x0 + tk).attr('stroke', '#444');
        g.append('line').attr('y1', y(v)).attr('y2', y(v)).attr('x1', p.x1).attr('x2', p.x1 - tk).attr('stroke', '#444');
    });

    // tick labels
    g.selectAll(null).data(p.yTicks).enter().append('text')
        .attr('x', p.x0 - p.yGap).attr('y', d => y(d) + 4).attr('dy', '0.35em')
        .attr('text-anchor', 'end').attr('font-size', 24).text(d => d);
    g.selectAll(null).data(timeTicks).enter().append('text')
        .attr('x', d => x(d)).attr('y', p.xLabelY).attr('dy', '0.35em')
        .attr('text-anchor', 'middle').attr('font-size', 24).text(d => d);
    if (p.smallLabels) {
        const sg = g.append('g').attr('clip-path', clipRect(p.x0 - 20, p.y1, p.x1 + 20, p.smallLabels.clip));
        sg.selectAll(null).data(timeGrid).enter().append('text')
            .attr('x', d => x(d)).attr('y', p.smallLabels.y).attr('dy', '0.35em')
            .attr('text-anchor', 'middle').attr('font-size', 12).style('fill', '#555').text(d => d);
    }
    g.append('text').attr('x', (p.x0 + p.x1) / 2).attr('y', p.timeY).attr('dy', '0.35em')
        .attr('text-anchor', 'middle').attr('font-size', 26).text('Time [min]');
    g.append('text')
        .attr('transform', `translate(${p.yLabelX},${p.yLabelY}) rotate(-90)`)
        .attr('dy', '0.35em').attr('text-anchor', 'middle').attr('font-size', 25.5)
        .attr('textLength', p.yLabelLen).attr('lengthAdjust', 'spacingAndGlyphs')
        .text(p.yLabel);
}

// ---------- insulin delivery panels ----------
function drawDelivery(d) {
    const x = d3.scaleLinear().domain([0, 450]).range([d.x0, d.x1]);
    const y = d3.scaleLinear().domain([0, 10]).range([d.y1, d.y0]);
    const g = svg.append('g');
    const inner = g.append('g').attr('clip-path', clipRect(d.x0, d.y0, d.x1, d.y1));
    inner.append('rect').attr('x', d.x0).attr('y', d.y0)
        .attr('width', d.x1 - d.x0).attr('height', d.y1 - d.y0).attr('fill', '#fff');
    inner.selectAll(null).data(delTimeTicks).enter().append('line')
        .attr('x1', v => x(v)).attr('x2', v => x(v)).attr('y1', d.y0).attr('y2', d.y1)
        .attr('stroke', '#e3e3e3').attr('stroke-width', 1.2);
    inner.append('line').attr('x1', d.x0).attr('x2', d.x1).attr('y1', y(5)).attr('y2', y(5))
        .attr('stroke', '#e3e3e3').attr('stroke-width', 1.2);

    const area = d3.area().curve(d3.curveStepAfter)
        .x(v => x(v[0])).y0(y(0)).y1(v => y(v[1]));
    inner.append('path').attr('d', area(d.data))
        .attr('fill', d.color).attr('stroke', d.color).attr('stroke-width', 1.6);

    g.append('rect').attr('x', d.x0).attr('y', d.y0)
        .attr('width', d.x1 - d.x0).attr('height', d.y1 - d.y0)
        .attr('fill', 'none').attr('stroke', '#7d7d7d').attr('stroke-width', 1.8);
    delTimeTicks.forEach(v => {
        g.append('line').attr('x1', x(v)).attr('x2', x(v)).attr('y1', d.y0).attr('y2', d.y0 + 4).attr('stroke', '#444');
    });
    g.append('line').attr('x1', d.x1).attr('x2', d.x1 - 4).attr('y1', y(5)).attr('y2', y(5)).attr('stroke', '#444');

    // legend
    const lg = g.append('g');
    const txt = lg.append('text').attr('font-size', d.lfs).style('fill', '#222').text(d.label);
    const w = txt.node().getComputedTextLength();
    const right = d.x1 - 8, top = d.y0 + 6, h = 19;
    const left = right - (w + 53);
    lg.insert('rect', 'text').attr('x', left).attr('y', top).attr('width', right - left).attr('height', h)
        .attr('fill', '#fff').attr('stroke', '#777').attr('stroke-width', 1.6);
    lg.append('line').attr('x1', left + 5).attr('x2', left + 45).attr('y1', top + h / 2).attr('y2', top + h / 2)
        .attr('stroke', d.color).attr('stroke-width', 2.6);
    txt.attr('x', left + 48).attr('y', top + h / 2).attr('dy', '0.35em');

    if (d.showY) {
        g.selectAll(null).data(delYTicks).enter().append('text')
            .attr('x', d.x0 - 9.5).attr('y', v => y(v) + 7).attr('dy', '0.35em')
            .attr('text-anchor', 'end').attr('font-size', 24).text(v => v);
    }
    if (d.tinyTop) {
        g.append('text').attr('x', d.x0 - 9).attr('y', d.y0).attr('dy', '0.35em')
            .attr('text-anchor', 'middle').attr('font-size', 8).style('fill', '#777').text(delYTicks[2]);
    }
    if (d.bigY) {
        g.selectAll(null).data(delBigTicks).enter().append('text')
            .attr('x', v => x(v)).attr('y', d.bigY).attr('dy', '0.35em')
            .attr('text-anchor', 'middle').attr('font-size', 24).text(v => v);
        g.append('text').attr('x', (d.x0 + d.x1) / 2).attr('y', d.timeY).attr('dy', '0.35em')
            .attr('text-anchor', 'middle').attr('font-size', 26).text('Time [min]');
    } else {
        g.selectAll(null).data(delTimeTicks).enter().append('text')
            .attr('x', v => x(v)).attr('y', d.y1 + 11.3).attr('dy', '0.35em')
            .attr('text-anchor', 'middle').attr('font-size', 11).style('fill', '#444').text(v => v);
    }
}

// ---------- assemble ----------
const scenarios = [
    {
        ins: { lines: [s1InsNom, s1Ins5, s1Ins30, s1Ins60, s1Ins120, s1Ins180],
               bands: [s1InsNomBand, s1Ins5Band, s1Ins30Band, s1Ins60Band, s1Ins120Band, s1Ins180Band],
               x0: 68.4, x1: 503.8, y0: 214, y1: 556.7, yGap: 5.5, xLabelY: 585, timeY: 612,
               yLabelX: 11.5, yLabelY: 389.2, yLabelLen: 345,
               legend: { x0: 202.7, x1: 494.6, y0: 220, y1: 373.3, row0: 236.7, step: 24.46, lx0: 210.1, lx1: 270, tx: 274.5, fs: 17.9, lwk: 1 } },
        glu: { lines: [s1GluNom, s1Glu5, s1Glu30, s1Glu60, s1Glu120, s1Glu180],
               bands: [s1GluNomBand, s1Glu5Band, s1Glu30Band, s1Glu60Band, s1Glu120Band, s1Glu180Band],
               x0: 71.4, x1: 502.3, y0: 631, y1: 970.7, yGap: 7.8, xLabelY: 1003.3, timeY: 1028.3,
               yLabelX: 1, yLabelY: 805, yLabelLen: 189, smallLabels: { y: 983.8, clip: 984.8 },
               legend: { x0: 288.5, x1: 492, y0: 638.8, y1: 745, pad: 4, row0: 650.7, step: 16.9, lx0: 293, lx1: 334.8, tx: 337.7, fs: 12.6, lwk: 0.8 } },
        del: { data: [s1DelNom, s1Del5, s1Del30, s1Del60, s1Del120, s1Del180],
               cols: [[71.4, 260.8], [321, 511.2]],
               rows: [[1064, 1156.7], [1191.7, 1284.3], [1319.3, 1411.7]],
               yLabelX: 10, yLabelY: 1234, yLabelLen: 255, bigY: 1428.3, timeY: 1455, lfs: 10.7 }
    },
    {
        ins: { lines: [s2InsNom, s2Ins5, s2Ins30, s2Ins60, s2Ins120, s2Ins180],
               bands: [s2InsNomBand, s2Ins5Band, s2Ins30Band, s2Ins60Band, s2Ins120Band, s2Ins180Band],
               x0: 665.8, x1: 1110.8, y0: 206.7, y1: 557.3, yGap: 6, xLabelY: 586.7, timeY: 616,
               yLabelX: 605.9, yLabelY: 386.7, yLabelLen: 343.3,
               legend: { x0: 827.8, x1: 1105.3, y0: 212.7, y1: 358.3, row0: 227.7, step: 23.1, lx0: 837, lx1: 893.7, tx: 897.4, fs: 16.9, lwk: 1 } },
        glu: { lines: [s2GluNom, s2Glu5, s2Glu30, s2Glu60, s2Glu120, s2Glu180],
               bands: [s2GluNomBand, s2Glu5Band, s2Glu30Band, s2Glu60Band, s2Glu120Band, s2Glu180Band],
               x0: 664, x1: 1108.2, y0: 629.3, y1: 979.3, yGap: 4.5, xLabelY: 1006.7, timeY: 1031.7,
               yLabelX: 594.8, yLabelY: 805.3, yLabelLen: 189.3,
               legend: { x0: 878.9, x1: 1103.8, y0: 637.3, y1: 756.7, pad: 4, row0: 650.7, step: 19.06, lx0: 884, lx1: 929.6, tx: 933.3, fs: 13.8, lwk: 0.9 } },
        del: { data: [s2DelNom, s2Del5, s2Del30, s2Del60, s2Del120, s2Del180],
               cols: [[669.5, 863.4], [925.1, 1120.1]],
               rows: [[1062.7, 1157.3], [1194, 1288.3], [1325, 1418.3]],
               yLabelX: 605.9, yLabelY: 1248, yLabelLen: 253.3, bigY: 1436.7, timeY: 1463.3, lfs: 11 }
    },
    {
        ins: { lines: [s3InsNom, s3Ins5, s3Ins30, s3Ins60, s3Ins120, s3Ins180],
               bands: [s3InsNomBand, s3Ins5Band, s3Ins30Band, s3Ins60Band, s3Ins120Band, s3Ins180Band],
               x0: 1271.5, x1: 1716.4, y0: 203.3, y1: 555.7, yGap: 5, xLabelY: 580, timeY: 607,
               yLabelX: 1211.5, yLabelY: 381.5, yLabelLen: 347,
               legend: { x0: 1440.8, x1: 1713.1, y0: 214.3, y1: 358.3, row0: 229.3, step: 22.9, lx0: 1447, lx1: 1503.3, tx: 1507.8, fs: 16.7, lwk: 1 } },
        glu: { lines: [s3GluNom, s3Glu5, s3Glu30, s3Glu60, s3Glu120, s3Glu180],
               bands: [s3GluNomBand, s3Glu5Band, s3Glu30Band, s3Glu60Band, s3Glu120Band, s3Glu180Band],
               x0: 1267.8, x1: 1712.7, y0: 630, y1: 981.7, yGap: 3, xLabelY: 1005, timeY: 1030,
               yLabelX: 1198.6, yLabelY: 797.5, yLabelLen: 188.4,
               legend: { x0: 1482.4, x1: 1707.6, y0: 637.3, y1: 756.7, pad: 4, row0: 650.7, step: 19.06, lx0: 1487.5, lx1: 1533.5, tx: 1537.2, fs: 13.8, lwk: 0.9 } },
        del: { data: [s3DelNom, s3Del5, s3Del30, s3Del60, s3Del120, s3Del180],
               cols: [[1274.1, 1471.3], [1533.9, 1732.6]],
               rows: [[1059.3, 1155.3], [1192.3, 1288.3], [1325, 1419]],
               yLabelX: 1211.5, yLabelY: 1240, yLabelLen: 256.6, bigY: 1438.3, timeY: 1465, lfs: 11 }
    }
];

scenarios.forEach((s, si) => {
    drawPanel(Object.assign({}, s.ins, {
        yDomain: [-2, 25], yTicks: insTicks, yGrid: insTicks, lw: 1,
        yLabel: 'Insulin Concentration [pmol/L]'
    }));
    drawPanel(Object.assign({}, s.glu, {
        yDomain: [30, 210], yTicks: gluTicks, yGrid: gluGrid, lw: 1, targets: true,
        yLabel: 'Glucose [mg/dL]'
    }));
    const D = s.del;
    for (let r = 0; r < 3; r++) {
        for (let c = 0; c < 2; c++) {
            const k = r * 2 + c;
            drawDelivery({
                x0: D.cols[c][0], x1: D.cols[c][1], y0: D.rows[r][0], y1: D.rows[r][1],
                data: D.data[k], color: colors[k], label: deliveryLabels[k], lfs: D.lfs,
                showY: c === 0, tinyTop: si === 0 && r === 0 && c === 1,
                bigY: r === 2 ? D.bigY : null, timeY: D.timeY
            });
        }
    }
    svg.append('text')
        .attr('transform', `translate(${D.yLabelX},${D.yLabelY}) rotate(-90)`)
        .attr('dy', '0.35em').attr('text-anchor', 'middle').attr('font-size', 24.7)
        .attr('textLength', D.yLabelLen).attr('lengthAdjust', 'spacingAndGlyphs')
        .text('Insulin Delivery [IU/hr]');
});
</script>
</body>
</html>
